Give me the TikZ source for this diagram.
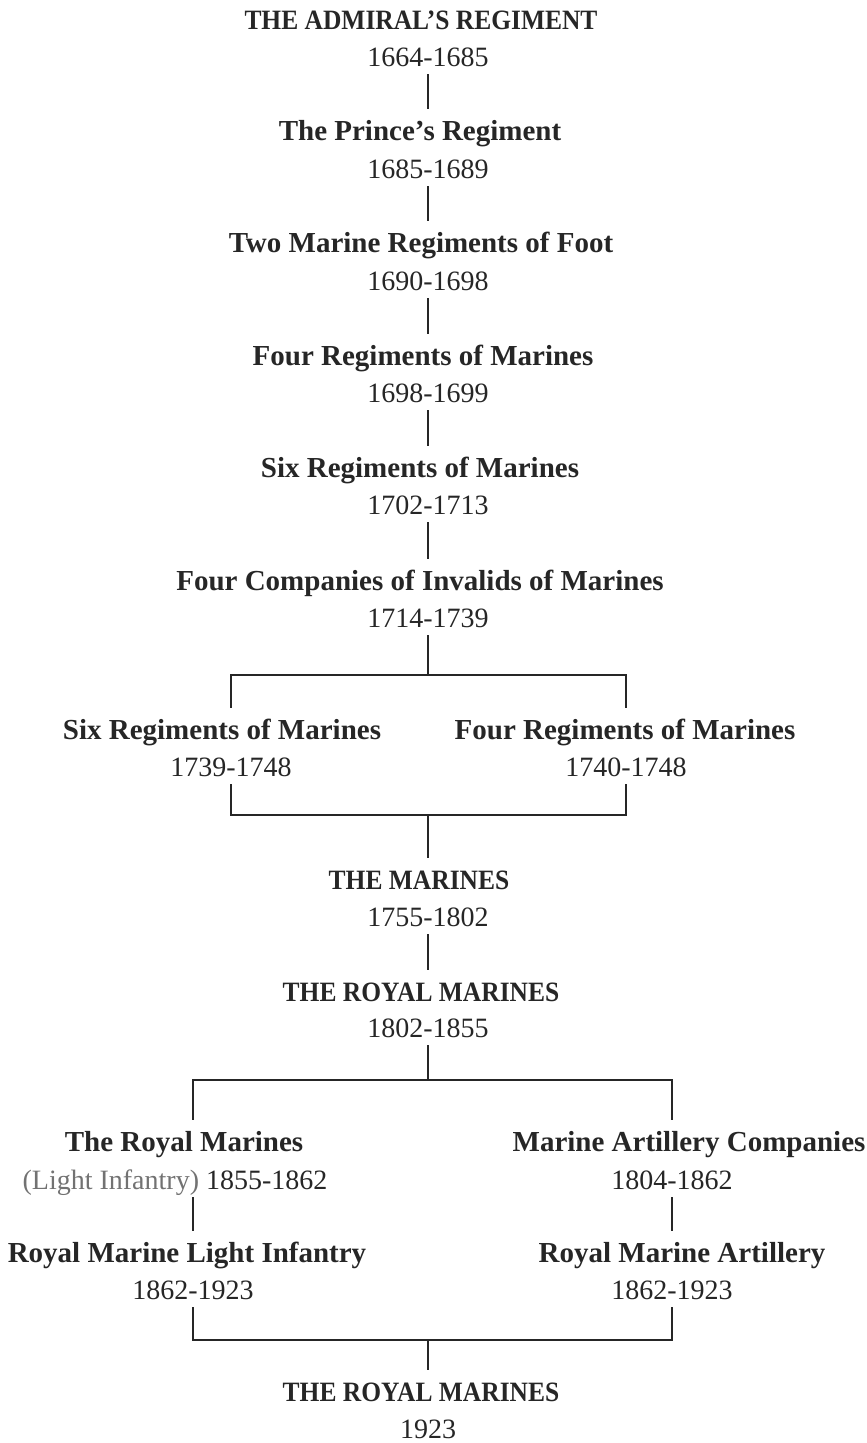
\documentclass[tikz,border=0pt]{standalone}
\usepackage{fontspec}
\setmainfont{Liberation Serif}
\newfontfamily\narrowserif[FakeStretch=0.91]{Liberation Serif}
\usetikzlibrary{positioning}
\definecolor{ink}{HTML}{262626}

\begin{document}
\begin{tikzpicture}[x=1pt, y=-1pt,
    unit/.style={font=\bfseries\fontsize{29}{31}\selectfont, text=ink,
      inner xsep=0pt, inner ysep=12.5pt, text height=19pt, anchor=base},
    title/.style={unit, font=\narrowserif\bfseries\fontsize{28}{30}\selectfont},
    years/.style={font=\fontsize{28}{30}\selectfont, text=ink,
      inner xsep=0pt, inner ysep=7.5pt, text height=19pt, text depth=0pt, anchor=base},
    link/.style={draw=ink, line width=2.8pt}]
    \useasboundingbox (0,0) rectangle (867,1443);

    % Main line, 1664-1739
    \node[title] (adm)    at (421,29.5)  {THE ADMIRAL’S REGIMENT};
    \node[years] (admY)   at (428,66.5)  {1664-1685};
    \node[unit]  (prince) at (420,140.5) {The Prince’s Regiment};
    \node[years] (princeY) at (428,178.5) {1685-1689};
    \node[unit]  (two)    at (421,252.5) {Two Marine Regiments of Foot};
    \node[years] (twoY)   at (428,290.5) {1690-1698};
    \node[unit]  (four)   at (423,365.5) {Four Regiments of Marines};
    \node[years] (fourY)  at (428,402.5) {1698-1699};
    \node[unit]  (six)    at (420,477.5) {Six Regiments of Marines};
    \node[years] (sixY)   at (428,514.5) {1702-1713};
    \node[unit]  (inval)  at (420,590.5) {Four Companies of Invalids of Marines};
    \node[years] (invalY) at (428,627.5) {1714-1739};

    \foreach \a/\b in {admY/prince, princeY/two, twoY/four, fourY/six, sixY/inval}
      \draw[link] (\a.south) -- (\a.south |- \b.north);

    % Split 1739-1748
    \node[unit]  (sixL)   at (222,739.5) {Six Regiments of Marines};
    \node[years] (sixLY)  at (231,776.5) {1739-1748};
    \node[unit]  (fourR)  at (625,739.5) {Four Regiments of Marines};
    \node[years] (fourRY) at (626,776.5) {1740-1748};

    \coordinate (split) at (428,675);
    \coordinate (join)  at (428,815);
    \draw[link] (invalY.south) -- (split);
    \draw[link] (sixLY |- sixL.north) |- (split) -| (fourRY |- fourR.north);
    \draw[link] (sixLY.south) |- (join) -| (fourRY.south);

    % The Marines
    \node[title] (mar)    at (419,889.5)  {THE MARINES};
    \node[years] (marY)   at (428,926.5)  {1755-1802};
    \node[title] (royal)  at (421,1001.5) {THE ROYAL MARINES};
    \node[years] (royalY) at (428,1037.5) {1802-1855};
    \draw[link] (join) -- (join |- mar.north);
    \draw[link] (marY.south) -- (marY.south |- royal.north);

    % Split 1855-1923
    \node[unit]  (li)     at (184,1151.5) {The Royal Marines};
    \node[years] (liY)    at (175,1189.5) {{\color{ink!65}(Light Infantry)} 1855-1862};
    \node[unit]  (art)    at (689,1151.5) {Marine Artillery Companies};
    \node[years] (artY)   at (672,1189.5) {1804-1862};
    \node[unit]  (rmli)   at (187,1262.5) {Royal Marine Light Infantry};
    \node[years] (rmliY)  at (193,1299.5) {1862-1923};
    \node[unit]  (rma)    at (682,1262.5) {Royal Marine Artillery};
    \node[years] (rmaY)   at (672,1299.5) {1862-1923};

    \coordinate (split2) at (428,1080);
    \coordinate (join2)  at (428,1340);
    \draw[link] (royalY.south) -- (split2);
    \draw[link] (rmliY |- li.north) |- (split2) -| (rmaY |- art.north);
    \draw[link] (rmliY |- liY.south) -- (rmliY |- rmli.north);
    \draw[link] (artY.south) -- (artY.south |- rma.north);
    \draw[link] (rmliY.south) |- (join2) -| (rmaY.south);

    % The Royal Marines, 1923
    \node[title] (rm)     at (421,1401.5) {THE ROYAL MARINES};
    \node[years] (rmY)    at (428,1438)   {1923};
    \draw[link] (join2) -- (join2 |- rm.north);
\end{tikzpicture}
\end{document}
